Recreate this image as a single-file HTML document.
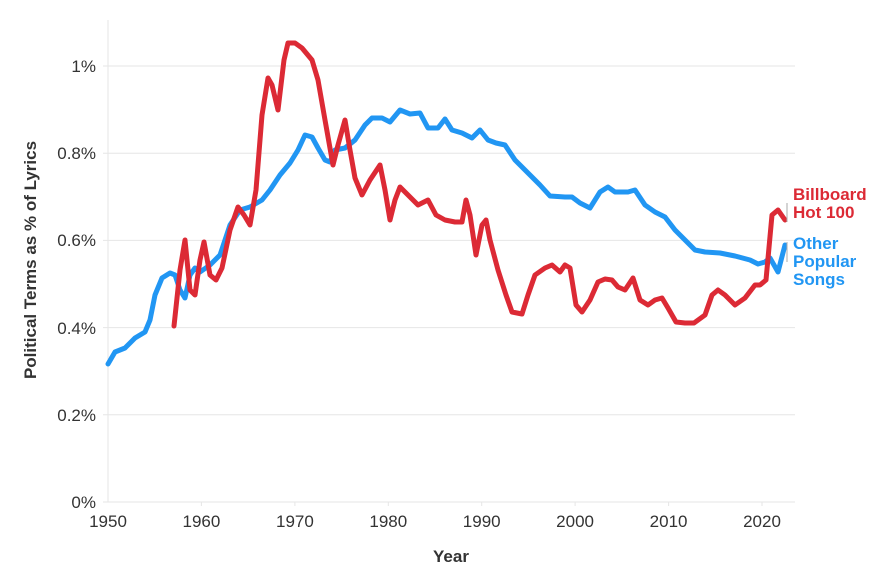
<!DOCTYPE html>
<html><head><meta charset="utf-8"><style>
body{margin:0;background:#fff;}
svg{display:block;font-family:"Liberation Sans",sans-serif;}
</style></head><body>
<svg width="886" height="582" viewBox="0 0 886 582">
<g stroke="#e6e6e6" stroke-width="1">
<line x1="103" y1="502" x2="795" y2="502"/>
<line x1="103" y1="414.8" x2="795" y2="414.8"/>
<line x1="103" y1="327.6" x2="795" y2="327.6"/>
<line x1="103" y1="240.4" x2="795" y2="240.4"/>
<line x1="103" y1="153.2" x2="795" y2="153.2"/>
<line x1="103" y1="66" x2="795" y2="66"/>
<line x1="108" y1="20" x2="108" y2="502"/>
<line x1="201.4" y1="502" x2="201.4" y2="506"/><line x1="294.9" y1="502" x2="294.9" y2="506"/><line x1="388.3" y1="502" x2="388.3" y2="506"/><line x1="481.7" y1="502" x2="481.7" y2="506"/><line x1="575.1" y1="502" x2="575.1" y2="506"/><line x1="668.6" y1="502" x2="668.6" y2="506"/><line x1="762" y1="502" x2="762" y2="506"/>
</g>
<g fill="#333" font-size="17" text-anchor="end">
<text x="96" y="508">0%</text><text x="96" y="421">0.2%</text><text x="96" y="334">0.4%</text><text x="96" y="246">0.6%</text><text x="96" y="159">0.8%</text><text x="96" y="72">1%</text>
</g>
<g fill="#333" font-size="17" text-anchor="middle">
<text x="108" y="527">1950</text><text x="201.4" y="527">1960</text><text x="294.9" y="527">1970</text><text x="388.3" y="527">1980</text><text x="481.7" y="527">1990</text><text x="575.1" y="527">2000</text><text x="668.6" y="527">2010</text><text x="762" y="527">2020</text>
</g>
<text x="451" y="562" font-size="17" font-weight="bold" fill="#333" text-anchor="middle">Year</text>
<text transform="translate(36,260) rotate(-90)" font-size="17" font-weight="bold" fill="#333" text-anchor="middle">Political Terms as % of Lyrics</text>
<polyline fill="none" stroke="#2196f3" stroke-width="5" stroke-linejoin="round" stroke-linecap="round" points="108,364 115,352 125,348 135,338 145,332 150,320 155,295 162,278 170,273 175,275 180,290 185,298 190,275 195,268 200,272 210,265 220,255 230,225 240,210 250,207 262,200 270,190 280,175 290,163 298,150 305,135 312,137 318,148 325,160 330,162 335,150 345,148 355,140 365,125 372,118 382,118 390,122 400,110 410,114 420,113 428,128 438,128 445,119 452,130 462,133 472,138 480,130 488,140 496,143 505,145 515,160 525,170 540,185 550,196 565,197 572,197 580,203 590,208 600,192 608,187 615,192 628,192 635,190 645,205 655,212 665,217 675,230 685,240 695,250 705,252 720,253 735,256 750,260 758,264 765,262 770,258 778,272 785,245"/>
<polyline fill="none" stroke="#dc2a35" stroke-width="5" stroke-linejoin="round" stroke-linecap="round" points="174,326 180,270 185,240 190,290 195,295 200,260 204,242 210,275 216,280 222,268 230,230 238,207 244,215 250,225 256,190 262,115 268,78 272,85 278,110 284,60 288,43 295,43 302,48 312,60 318,80 325,120 333,165 338,145 345,120 350,150 355,178 362,195 370,180 380,165 385,190 390,220 395,200 400,187 408,195 418,205 428,200 436,215 445,220 455,222 462,222 466,200 470,215 476,255 482,225 486,220 490,240 498,270 506,295 512,312 522,314 528,295 535,275 545,268 552,265 560,272 565,265 570,268 576,305 582,312 590,300 598,282 605,279 612,280 618,287 625,290 633,278 640,300 648,305 655,300 662,298 668,308 676,322 685,323 694,323 705,315 712,295 718,290 725,295 735,305 745,298 755,285 760,285 766,280 772,215 778,210 785,220"/>
<g stroke="#aaa" stroke-width="1" fill="none">
<path d="M787,203 V222"/><path d="M787,242 V262"/>
</g>
<g font-size="17" font-weight="bold">
<text x="793" y="200" fill="#dc2a35">Billboard</text>
<text x="793" y="218" fill="#dc2a35">Hot 100</text>
<text x="793" y="249" fill="#2196f3">Other</text>
<text x="793" y="267" fill="#2196f3">Popular</text>
<text x="793" y="285" fill="#2196f3">Songs</text>
</g>
</svg>
</body></html>
